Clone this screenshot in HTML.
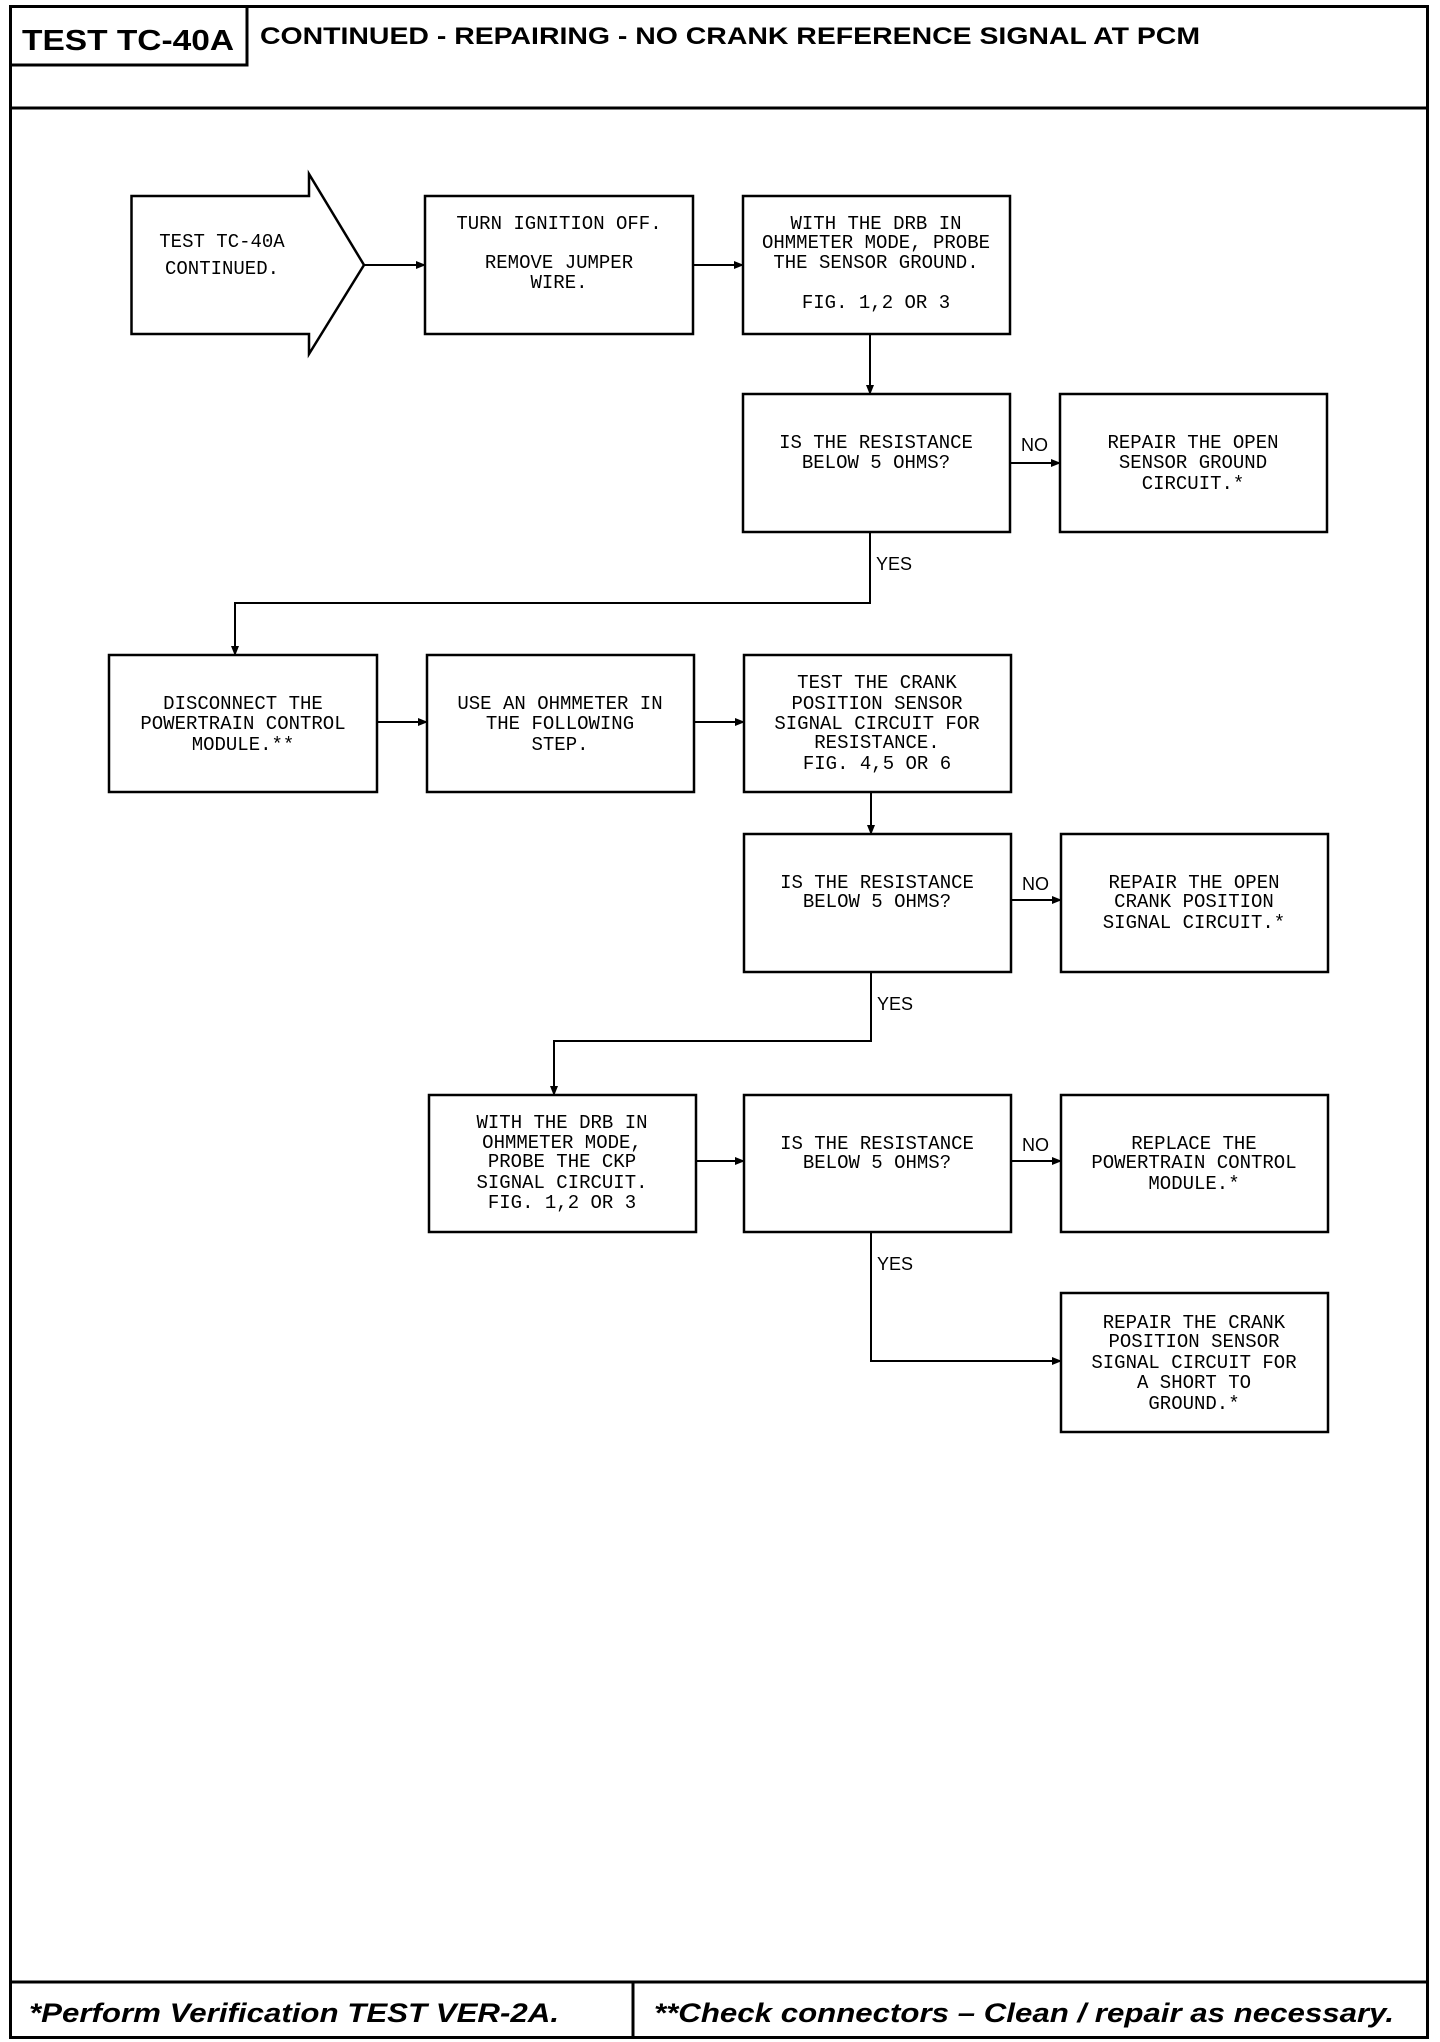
<!DOCTYPE html>
<html><head><meta charset="utf-8"><style>
html,body{margin:0;padding:0;background:#fff}
svg{display:block}
.t{font-family:"Liberation Mono",monospace;font-size:19px;fill:#000;text-anchor:middle}
.l{font-family:"Liberation Sans",sans-serif;font-size:18px;fill:#000}
</style></head><body>
<svg width="1440" height="2042" viewBox="0 0 1440 2042" xmlns="http://www.w3.org/2000/svg">
<defs><marker id="a" markerWidth="10" markerHeight="10" refX="9" refY="5" orient="auto" markerUnits="userSpaceOnUse"><path d="M0,1 L10,5 L0,9 Z" fill="#000"/></marker></defs>
<g fill="none" stroke="#000" stroke-width="3">
<rect x="10.5" y="6.5" width="1417" height="2031"/>
<line x1="10" y1="108" x2="1428" y2="108"/>
<polyline points="10,65 247,65 247,6"/>
<line x1="10" y1="1982" x2="1428" y2="1982"/>
<line x1="633" y1="1982" x2="633" y2="2038"/>
</g>
<text x="22" y="50" font-family="Liberation Sans,sans-serif" font-weight="bold" font-size="29" textLength="212" lengthAdjust="spacingAndGlyphs">TEST TC-40A</text>
<text x="260" y="44" font-family="Liberation Sans,sans-serif" font-weight="bold" font-size="24" textLength="940" lengthAdjust="spacingAndGlyphs">CONTINUED - REPAIRING - NO CRANK REFERENCE SIGNAL AT PCM</text>
<text x="29" y="2022" font-family="Liberation Sans,sans-serif" font-weight="bold" font-style="italic" font-size="27" textLength="530" lengthAdjust="spacingAndGlyphs">*Perform Verification TEST VER-2A.</text>
<text x="654" y="2022" font-family="Liberation Sans,sans-serif" font-weight="bold" font-style="italic" font-size="27" textLength="740" lengthAdjust="spacingAndGlyphs">**Check connectors – Clean / repair as necessary.</text>

<g fill="none" stroke="#000" stroke-width="2.5">
<polygon points="131.5,196 309,196 309,174 364,265 309,354 309,334 131.5,334"/>
<rect x="425" y="196" width="268" height="138"/>
<rect x="743" y="196" width="267" height="138"/>
<rect x="743" y="394" width="267" height="138"/>
<rect x="1060" y="394" width="267" height="138"/>
<rect x="109" y="655" width="268" height="137"/>
<rect x="427" y="655" width="267" height="137"/>
<rect x="744" y="655" width="267" height="137"/>
<rect x="744" y="834" width="267" height="138"/>
<rect x="1061" y="834" width="267" height="138"/>
<rect x="429" y="1095" width="267" height="137"/>
<rect x="744" y="1095" width="267" height="137"/>
<rect x="1061" y="1095" width="267" height="137"/>
<rect x="1061" y="1293" width="267" height="139"/>
</g>
<g fill="none" stroke="#000" stroke-width="2" marker-end="url(#a)">
<line x1="364" y1="265" x2="425" y2="265"/>
<line x1="693" y1="265" x2="743" y2="265"/>
<line x1="870" y1="334" x2="870" y2="394"/>
<line x1="1010" y1="463" x2="1060" y2="463"/>
<polyline points="870,532 870,603 235,603 235,655"/>
<line x1="377" y1="722" x2="427" y2="722"/>
<line x1="694" y1="722" x2="744" y2="722"/>
<line x1="871" y1="792" x2="871" y2="834"/>
<line x1="1011" y1="900" x2="1061" y2="900"/>
<polyline points="871,972 871,1041 554,1041 554,1095"/>
<line x1="696" y1="1161" x2="744" y2="1161"/>
<line x1="1011" y1="1161" x2="1061" y2="1161"/>
<polyline points="871,1232 871,1361 1061,1361"/>
</g>

<g class="t">
<text x="222" y="247">TEST TC-40A</text>
<text x="222" y="274">CONTINUED.</text>
<text x="559" y="229">TURN IGNITION OFF.</text>
<text x="559" y="268">REMOVE JUMPER</text>
<text x="559" y="288">WIRE.</text>
<text x="876" y="229">WITH THE DRB IN</text>
<text x="876" y="248">OHMMETER MODE, PROBE</text>
<text x="876" y="268">THE SENSOR GROUND.</text>
<text x="876" y="308">FIG. 1,2 OR 3</text>
<text x="876" y="448">IS THE RESISTANCE</text>
<text x="876" y="468">BELOW 5 OHMS?</text>
<text x="1193" y="448">REPAIR THE OPEN</text>
<text x="1193" y="468">SENSOR GROUND</text>
<text x="1193" y="489">CIRCUIT.*</text>
<text x="243" y="709">DISCONNECT THE</text>
<text x="243" y="729">POWERTRAIN CONTROL</text>
<text x="243" y="750">MODULE.**</text>
<text x="560" y="709">USE AN OHMMETER IN</text>
<text x="560" y="729">THE FOLLOWING</text>
<text x="560" y="750">STEP.</text>
<text x="877" y="688">TEST THE CRANK</text>
<text x="877" y="709">POSITION SENSOR</text>
<text x="877" y="729">SIGNAL CIRCUIT FOR</text>
<text x="877" y="748">RESISTANCE.</text>
<text x="877" y="769">FIG. 4,5 OR 6</text>
<text x="877" y="888">IS THE RESISTANCE</text>
<text x="877" y="907">BELOW 5 OHMS?</text>
<text x="1194" y="888">REPAIR THE OPEN</text>
<text x="1194" y="907">CRANK POSITION</text>
<text x="1194" y="928">SIGNAL CIRCUIT.*</text>
<text x="562" y="1128">WITH THE DRB IN</text>
<text x="562" y="1148">OHMMETER MODE,</text>
<text x="562" y="1167">PROBE THE CKP</text>
<text x="562" y="1188">SIGNAL CIRCUIT.</text>
<text x="562" y="1208">FIG. 1,2 OR 3</text>
<text x="877" y="1149">IS THE RESISTANCE</text>
<text x="877" y="1168">BELOW 5 OHMS?</text>
<text x="1194" y="1149">REPLACE THE</text>
<text x="1194" y="1168">POWERTRAIN CONTROL</text>
<text x="1194" y="1189">MODULE.*</text>
<text x="1194" y="1328">REPAIR THE CRANK</text>
<text x="1194" y="1347">POSITION SENSOR</text>
<text x="1194" y="1368">SIGNAL CIRCUIT FOR</text>
<text x="1194" y="1388">A SHORT TO</text>
<text x="1194" y="1409">GROUND.*</text>
</g>
<g class="l">
<text x="1021" y="451">NO</text>
<text x="876" y="570">YES</text>
<text x="1022" y="890">NO</text>
<text x="877" y="1010">YES</text>
<text x="1022" y="1151">NO</text>
<text x="877" y="1270">YES</text>
</g>
</svg>
</body></html>
